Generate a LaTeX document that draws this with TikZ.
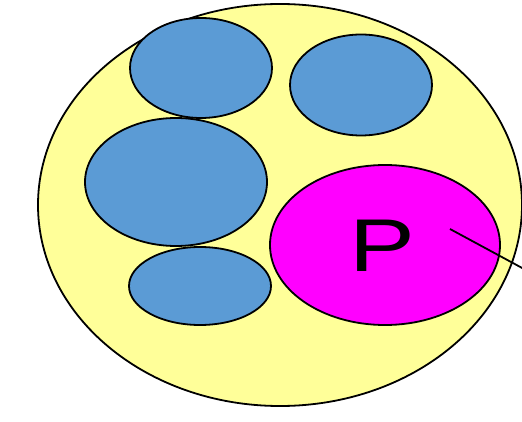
\documentclass[tikz,border=0pt]{standalone}
\usepackage{fontspec}
\setmainfont{Liberation Sans}
\usetikzlibrary{shapes.geometric}
\definecolor{paleyellow}{HTML}{FFFF99}
\definecolor{setblue}{HTML}{5B9BD5}
\definecolor{pmag}{HTML}{FF00FF}
\tikzset{
  blob/.style={ellipse, draw=black, line width=1.8pt, inner sep=0pt},
  bluebox/.style={blob, fill=setblue},
}
\begin{document}
\begin{tikzpicture}[x=1pt,y=-1pt]
\useasboundingbox (0,0) rectangle (522,422);
\node[blob, fill=paleyellow, minimum width=484pt, minimum height=402pt] (outer) at (280,205) {};
\node[bluebox, minimum width=142pt, minimum height=100pt] (b1) at (201,68) {};
\node[bluebox, minimum width=142pt, minimum height=101pt] (b2) at (361,85) {};
\node[bluebox, minimum width=182pt, minimum height=128pt] (b3) at (176,182) {};
\node[bluebox, minimum width=142pt, minimum height=78pt] (b4) at (200,286) {};
\node[blob, fill=pmag, minimum width=230pt, minimum height=160pt] (p) at (385,245) {};
\node[font=\fontsize{68}{68}\selectfont, inner sep=0pt, xscale=1.45, yscale=1.1, anchor=base] (plabel) at (382.5,271) {P};
\coordinate (pin) at (450,229);
\coordinate (pout) at (524,269);
\draw[line width=1.8pt] (pin) -- (pout);
\end{tikzpicture}
\end{document}
